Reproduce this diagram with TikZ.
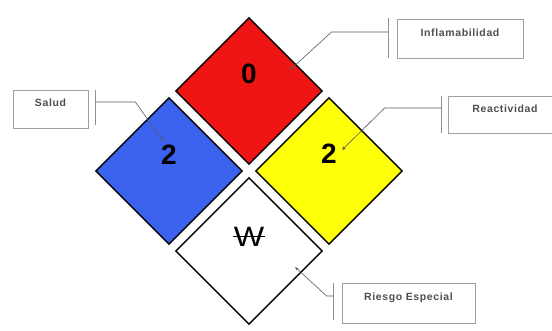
\documentclass[tikz,border=0pt]{standalone}
\usepackage{fontspec}
\setmainfont{Liberation Sans}
\usetikzlibrary{arrows.meta,shapes.geometric}
\definecolor{nfpared}{HTML}{F01515}
\definecolor{nfpablue}{HTML}{3B63EF}
\definecolor{nfpayellow}{HTML}{FFFF0A}
\definecolor{guiagray}{HTML}{5A5A5A}
\definecolor{boxgray}{HTML}{A0A0A0}
\definecolor{textgray}{HTML}{4E4E4E}
\newcommand{\wtachada}{\ooalign{\hfil\scalebox{1.15}[1]{W}\hfil\cr\rule[0.33em]{1.15em}{0.06em}\cr}}

\begin{document}
\begin{tikzpicture}[x=1pt, y=-1pt,
    rombo/.style={draw=black, line width=1.4pt, shape=diamond, aspect=1, inner sep=0pt, minimum width=147pt, minimum height=147pt},
    cifra/.style={font=\fontsize{28}{28}\selectfont\bfseries, inner sep=0pt},
    etiqueta/.style={draw=boxgray, line width=0.8pt, text=textgray, font=\fontsize{10.5}{11}\selectfont\bfseries\addfontfeature{LetterSpace=6}, text depth=12pt, inner xsep=0pt},
    barra/.style={draw=boxgray!90!black, line width=0.8pt},
    guia/.style={draw=guiagray, line width=0.6pt, -{Stealth[length=4pt,width=3pt]}}]
    \useasboundingbox[fill=white] (0,0) rectangle (552,331);

    % rombo NFPA
    \node[rombo, fill=nfpared] (rojo) at (249,91) {};
    \node[rombo, fill=nfpablue] (azul) at (169,171) {};
    \node[rombo, fill=nfpayellow] (amarillo) at (329,171) {};
    \node[rombo, fill=white] (blanco) at (249,251) {};
    \node[cifra] (cero) at ([yshift=17pt]rojo.center) {0};
    \node[cifra] (dosazul) at ([yshift=16pt]azul.center) {2};
    \node[cifra] (dosamarillo) at ([yshift=17pt]amarillo.center) {2};
    \node[font=\fontsize{28}{28}\selectfont, inner sep=0pt] (agua) at ([yshift=14pt]blanco.center) {\wtachada};

    % etiquetas
    \node[etiqueta, minimum width=75pt, minimum height=38pt] (salud) at (50.5,109) {Salud};
    \node[etiqueta, minimum width=126pt, minimum height=39pt] (inflam) at (460,38.5) {Inflamabilidad};
    \node[etiqueta, minimum width=114pt, minimum height=37pt] (reac) at (505,114.5) {Reactividad};
    \node[etiqueta, minimum width=133pt, minimum height=40pt] (riesgo) at (408.5,303) {Riesgo Especial};

    \coordinate (pSalud) at (163,141);
    \coordinate (pInflam) at (290,70);
    \coordinate (pReac) at (342,150);
    \coordinate (pRiesgo) at (295,267);

    \draw[barra] ([xshift=7pt]salud.north east) -- ([xshift=7pt,yshift=3pt]salud.south east);
    \draw[barra] ([xshift=-8pt,yshift=1pt]inflam.north west) -- ([xshift=-8pt]inflam.south west);
    \draw[barra] ([xshift=-6pt]reac.north west) -- ([xshift=-6pt]reac.south west);
    \draw[barra] ([xshift=-8pt]riesgo.north west) -- ([xshift=-8pt,yshift=3pt]riesgo.south west);

    \draw[guia] ([xshift=7pt,yshift=7pt]salud.east) -- ++(40,0) -- (pSalud);
    \draw[guia] ([xshift=-8pt,yshift=6.5pt]inflam.west) -- ++(-57,0) -- (pInflam);
    \draw[guia] ([xshift=-6pt,yshift=6.5pt]reac.west) -- ++(-57,0) -- (pReac);
    \draw[guia] ([xshift=-8pt,yshift=7pt]riesgo.west) -- ++(-7,0) -- (pRiesgo);
\end{tikzpicture}
\end{document}
